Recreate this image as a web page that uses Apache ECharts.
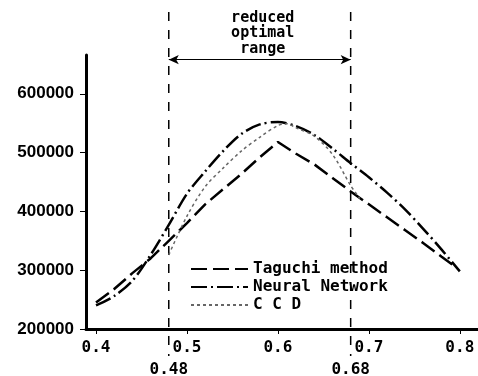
<!DOCTYPE html>
<html>
<head>
<meta charset="utf-8">
<script src="https://cdn.jsdelivr.net/npm/echarts@6/dist/echarts.min.js"></script>
<style>
  html, body { margin: 0; padding: 0; background: #fff; }
  #chart { width: 478px; height: 376px; }
</style>
</head>
<body>
<div id="chart"></div>
<script>
// values
const taguchiX = [0.40, 0.42, 0.44, 0.46, 0.48, 0.50, 0.52, 0.54, 0.56, 0.58, 0.60, 0.62, 0.64, 0.66, 0.68, 0.70, 0.72, 0.74, 0.76, 0.78, 0.795];
const taguchiY = [245000, 268000, 295000, 320000, 350000, 380000, 412000, 438000, 464000, 492000, 518000, 498000, 480000, 457000, 434000, 412000, 390000, 368000, 346000, 323000, 306000];
const neuralX = [0.40, 0.42, 0.44, 0.46, 0.48, 0.50, 0.52, 0.54, 0.56, 0.58, 0.60, 0.62, 0.64, 0.66, 0.68, 0.70, 0.72, 0.74, 0.76, 0.78, 0.80];
const neuralY = [240000, 256000, 282000, 326000, 377000, 430000, 468000, 503000, 532000, 548000, 552000, 545000, 530000, 507000, 482000, 458000, 432000, 403000, 370000, 335000, 298000];
const ccdX = [0.48, 0.50, 0.52, 0.54, 0.56, 0.58, 0.60, 0.61, 0.62, 0.64, 0.66, 0.68, 0.69];
const ccdY = [326000, 392000, 442000, 474000, 503000, 526000, 546000, 549000, 542000, 528000, 497000, 444000, 422000];
const seriesNames = ['Taguchi method', 'Neural Network', 'C C D'];
const xTicks = [0.4, 0.5, 0.6, 0.7, 0.8];
const yTicks = [200000, 300000, 400000, 500000, 600000];
const rangeMarks = [0.48, 0.68];
const rangeText = 'reduced\noptimal\nrange';
const arrowLevel = 658000;

const zip = (xs, ys) => xs.map((x, i) => [x, ys[i]]);
const mono = '"DejaVu Sans Mono", monospace';

const chart = echarts.init(document.getElementById('chart'));
chart.setOption({
  animation: false,
  grid: { left: 86, right: 0, top: 55, bottom: 47 },
  xAxis: {
    type: 'value',
    min: 0.389,
    max: 0.82,
    axisLine: { show: true, lineStyle: { color: '#000', width: 3 } },
    axisTick: { show: true, length: 5, customValues: xTicks, lineStyle: { color: '#000', width: 1 } },
    axisLabel: {
      customValues: xTicks,
      formatter: v => v.toFixed(1),
      color: '#000', fontFamily: mono, fontWeight: 'bold', fontSize: 16, margin: 11
    },
    splitLine: { show: false }
  },
  yAxis: {
    type: 'value',
    min: 200000,
    max: 666000,
    axisLine: { show: true, lineStyle: { color: '#000', width: 3 } },
    axisTick: { show: true, length: 6, customValues: yTicks, lineStyle: { color: '#000', width: 1 } },
    axisLabel: {
      customValues: yTicks,
      formatter: v => String(v),
      color: '#000', fontFamily: '"Liberation Sans", Arial, sans-serif', fontWeight: 'bold', fontSize: 17, margin: 12
    },
    splitLine: { show: false }
  },
  legend: {
    orient: 'vertical',
    left: 185,
    top: 256,
    itemWidth: 57,
    itemHeight: 14,
    itemGap: 2,
    itemStyle: { color: 'rgba(0,0,0,0)', borderWidth: 0 },
    textStyle: { color: '#000', fontFamily: mono, fontWeight: 'bold', fontSize: 16 },
    data: seriesNames
  },
  series: [
    {
      name: seriesNames[0],
      type: 'line',
      symbol: 'none',
      data: zip(taguchiX, taguchiY),
      lineStyle: { color: '#000', width: 2.5, type: [16, 6] },
      itemStyle: { color: '#000' },
      markLine: {
        silent: true,
        symbol: ['arrow', 'arrow'],
        symbolSize: [7, 10],
        label: { show: false },
        lineStyle: { color: '#000', width: 1.2, type: 'solid' },
        data: [[{ coord: [rangeMarks[0], arrowLevel] }, { coord: [rangeMarks[1], arrowLevel] }]]
      }
    },
    {
      name: seriesNames[1],
      type: 'line',
      symbol: 'none',
      smooth: 0.3,
      data: zip(neuralX, neuralY),
      lineStyle: { color: '#000', width: 2.5, type: [16, 4, 2, 4] },
      itemStyle: { color: '#000' }
    },
    {
      name: seriesNames[2],
      type: 'line',
      symbol: 'none',
      smooth: 0.3,
      data: zip(ccdX, ccdY),
      lineStyle: { color: '#666', width: 1.5, type: [3, 3] },
      itemStyle: { color: '#666' }
    }
  ]
});

// vertical range lines, their labels and the title of the range
const px = rangeMarks.map(v => chart.convertToPixel({ gridIndex: 0 }, [v, 200000])[0]);
const graphics = [];
rangeMarks.forEach((v, i) => {
  graphics.push({
    type: 'line',
    silent: true,
    shape: { x1: px[i], y1: 12, x2: px[i], y2: 356 },
    style: { stroke: '#000', lineWidth: 1.5, lineDash: [9, 9] }
  });
  graphics.push({
    type: 'text',
    silent: true,
    x: px[i], y: 362,
    style: { text: String(v), fill: '#000', font: 'bold 16px ' + mono, textAlign: 'center' }
  });
});
graphics.push({
  type: 'text',
  silent: true,
  x: (px[0] + px[1]) / 2 + 3, y: 10,
  style: { text: rangeText, fill: '#000', font: 'bold 15px ' + mono, textAlign: 'center', lineHeight: 15.5 }
});
chart.setOption({ graphic: graphics });
</script>
</body>
</html>
